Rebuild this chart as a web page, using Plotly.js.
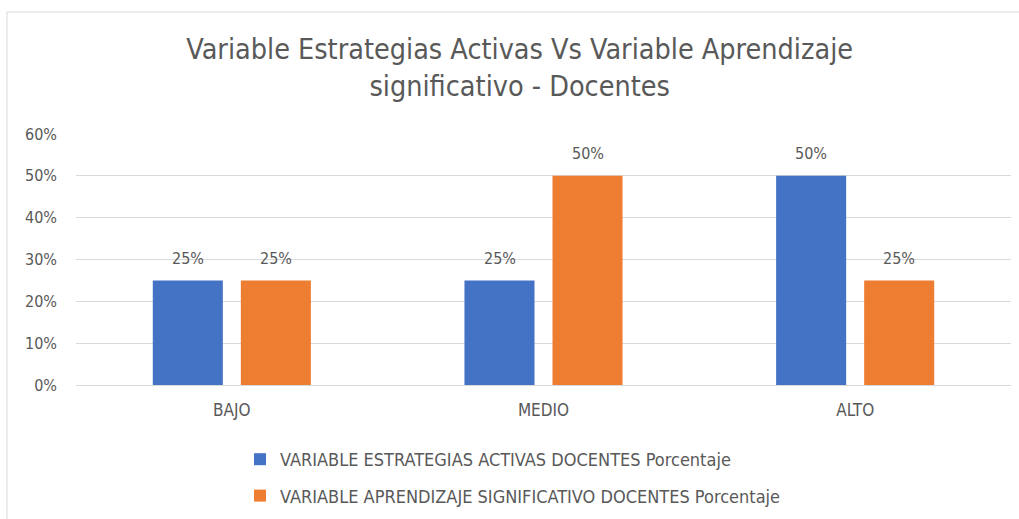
<!DOCTYPE html>
<html>
<head>
<meta charset="utf-8">
<script src="https://cdn.plot.ly/plotly-3.0.1.min.js"></script>
<style>html,body{margin:0;padding:0;background:#fff;}#chart{width:1019px;height:519px;}</style>
</head>
<body>
<div id="chart"></div>
<script>
var categories = ["BAJO", "MEDIO", "ALTO"];
var seriesNames = ["VARIABLE ESTRATEGIAS ACTIVAS DOCENTES Porcentaje", "VARIABLE APRENDIZAJE SIGNIFICATIVO DOCENTES Porcentaje"];
var estrategias = [0.25, 0.25, 0.50];
var aprendizaje = [0.25, 0.50, 0.25];
var yTickVals = [0, 0.1, 0.2, 0.3, 0.4, 0.5, 0.6];
var yTickText = ["0%", "10%", "20%", "30%", "40%", "50%", "60%"];
var colors = ["#4472C4", "#ED7D31"];
var titleText = "Variable Estrategias Activas Vs Variable Aprendizaje<br>significativo - Docentes";

var FONT = "'Liberation Sans Narrow', 'DejaVu Sans Condensed', 'Open Sans', sans-serif";
var GREY = "#595959";

var allSeries = [estrategias, aprendizaje];
var traces = allSeries.map(function (vals, i) {
  return {
    type: "bar",
    name: seriesNames[i],
    x: categories,
    y: vals,
    marker: {color: colors[i]},
    legendgroup: "g" + i,
    hoverinfo: "none"
  };
});

var annotations = [];
allSeries.forEach(function (vals, i) {
  vals.forEach(function (v, j) {
    annotations.push({
      x: categories[j], y: v, xref: "x", yref: "y",
      text: Math.round(v * 100) + "%",
      showarrow: false,
      xshift: i === 0 ? -44 : 44,
      yshift: 22,
      font: {family: FONT, size: 16, color: GREY}
    });
  });
});

var shapes = [{
  type: "rect", xref: "paper", yref: "paper",
  x0: (7 - 76) / 935, x1: 1.03, y0: -0.6, y1: (385 - 12) / 251,
  line: {color: "#D9D9D9", width: 1}, fillcolor: "rgba(0,0,0,0)", layer: "below"
}];

var layout = {
  width: 1019, height: 519,
  margin: {l: 76, r: 8, t: 134, b: 134, autoexpand: false},
  paper_bgcolor: "#fff", plot_bgcolor: "#fff",
  font: {family: FONT, color: GREY, size: 16},
  title: {
    text: titleText,
    font: {family: FONT, size: 28.5, color: GREY},
    x: 0.51, xanchor: "center",
    y: 1 - 59 / 519, yanchor: "top", yref: "container"
  },
  barmode: "group",
  bargap: 0.435,
  bargroupgap: 0.2045,
  xaxis: {
    type: "category",
    showgrid: false, zeroline: false,
    showline: false,
    ticks: "",
    ticklabelstandoff: 13,
    tickfont: {family: FONT, size: 17, color: GREY}
  },
  yaxis: {
    range: [0, 0.6],
    tickvals: yTickVals, ticktext: yTickText,
    showgrid: true, gridcolor: "#D9D9D9", gridwidth: 1,
    zeroline: true, zerolinecolor: "#D9D9D9", zerolinewidth: 1,
    showline: false, ticks: "",
    ticklabelstandoff: 18,
    tickfont: {family: FONT, size: 16, color: GREY}
  },
  showlegend: true,
  legend: {
    orientation: "v",
    x: (240 - 76) / 935, xanchor: "left",
    y: (385 - 441) / 251, yanchor: "top",
    tracegroupgap: 10,
    font: {family: FONT, size: 18, color: GREY},
    bgcolor: "rgba(0,0,0,0)"
  },
  annotations: annotations,
  shapes: shapes
};

Plotly.newPlot("chart", traces, layout, {displayModeBar: false, staticPlot: true});
</script>
</body>
</html>
